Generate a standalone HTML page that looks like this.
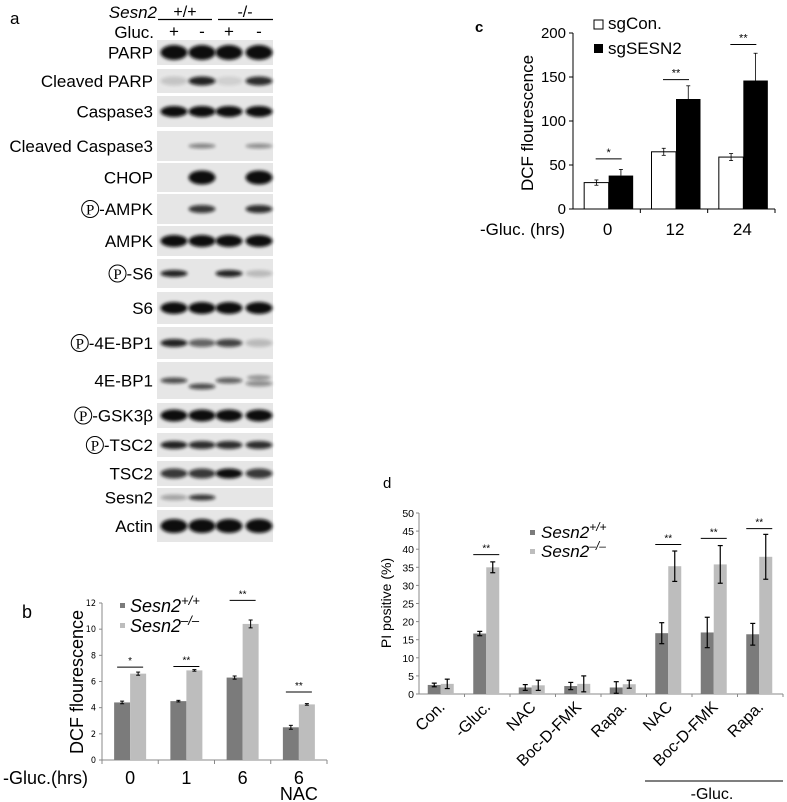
<!DOCTYPE html>
<html><head><meta charset="utf-8"><style>
html,body{margin:0;padding:0;background:#fff;}
svg{display:block;font-family:"Liberation Sans",Arial,sans-serif;}
</style></head><body>
<svg id="fig" width="787" height="802" viewBox="0 0 787 802" xmlns="http://www.w3.org/2000/svg">
<defs><filter id="blur" x="-20%" y="-50%" width="140%" height="200%"><feGaussianBlur stdDeviation="1.6"/></filter></defs>
<g id="panelA"></g>
<g id="panelB"></g>
<g id="panelC"></g>
<g id="panelD"></g>
</svg>
<script>
// ---------- Panel b data ----------
const bCategories = ["0","1","6","6"];
const bWT = [4.4,4.5,6.3,2.5];
const bKO = [6.6,6.85,10.4,4.25];
const bWTerr = [0.1,0.06,0.12,0.15];
const bKOerr = [0.12,0.06,0.3,0.06];
const bSig = ["*","**","**","**"];
const bSigLevel = [7.1,7.15,12.2,5.2];
const bTicks = [0,2,4,6,8,10,12];
// ---------- Panel c data ----------
const cCategories = ["0","12","24"];
const cCon = [30,65,59];
const cKO = [38,125,146];
const cConErr = [3,4,4];
const cKOErr = [7,15,31];
const cSig = ["*","**","**"];
const cSigLevel = [57,147,187];
const cTicks = [0,50,100,150,200];
// ---------- Panel d data ----------
const dCategories = ["Con.","-Gluc.","NAC","Boc-D-FMK","Rapa.","NAC","Boc-D-FMK","Rapa."];
const dWT = [2.5,16.7,1.8,2.2,1.8,16.8,17,16.5];
const dKO = [2.8,35,2.4,2.8,2.7,35.3,35.8,37.9];
const dWTerr = [0.5,0.6,0.8,1.0,1.6,2.9,4.2,3.0];
const dKOerr = [1.3,1.5,1.4,2.2,1.1,4.2,5.2,6.2];
const dSig = ["","**","","","","**","**","**"];
const dSigLevel = [0,38.5,0,0,0,41.3,43,45.7];
const dTicks = [0,5,10,15,20,25,30,35,40,45,50];
// ---------- Panel a data ----------
const blotLabels = ["PARP","Cleaved PARP","Caspase3","Cleaved Caspase3","CHOP","-AMPK","AMPK","-S6","S6","-4E-BP1","4E-BP1","-GSK3β","-TSC2","TSC2","Sesn2","Actin"];
const blotPhospho = [0,0,0,0,0,1,0,1,0,1,0,1,1,0,0,0];
const blotIntensity = [[1,1,1,1],[0.15,0.9,0.1,0.85],[1,1,1,1],[0,0.45,0,0.4],[0,1,0,1],[0,0.8,0,0.85],[1,1,1,1],[0.9,0,0.9,0.2],[1,1,1,1],[0.9,0.6,0.75,0.2],[0.7,0.7,0.6,0.4],[1,1,1,1],[0.9,0.85,0.85,0.85],[0.8,0.8,1,0.8],[0.3,0.8,0,0],[1,1,1,1]];

const NS="http://www.w3.org/2000/svg";
function mk(parent,tag,attrs,text){const e=document.createElementNS(NS,tag);for(const k in attrs)e.setAttribute(k,attrs[k]);if(text!==undefined)e.textContent=text;parent.appendChild(e);return e;}

// ================= Panel A =================
(function(){
const g=document.getElementById('panelA');
let t=mk(g,'text',{x:10,y:24,'font-size':17});t.textContent='a';


t=mk(g,'text',{x:157,y:18,'font-size':17,'font-style':'italic','text-anchor':'end'},'Sesn2');


mk(g,'text',{x:185,y:17,'font-size':16,'text-anchor':'middle'},'+/+');
mk(g,'line',{x1:158,y1:19.5,x2:212,y2:19.5,stroke:'#000','stroke-width':1.3});
mk(g,'text',{x:245,y:17,'font-size':16,'text-anchor':'middle'},'-/-');
mk(g,'line',{x1:218,y1:19.5,x2:273,y2:19.5,stroke:'#000','stroke-width':1.3});
t=mk(g,'text',{x:154,y:38,'font-size':17,'text-anchor':'end'},'Gluc.');


const lanes=[174,202,229,259];
["+","-","+","-"].forEach((s,i)=>mk(g,'text',{x:lanes[i],y:37,'font-size':17,'text-anchor':'middle'},s));
const rows=[[40,65],[69,93],[96,127],[131,161],[163,192],[194,224],[226,256],[259,288],[292,324],[327,359],[362,399],[403,428],[433,457],[461,486],[488,507],[510,542]];
const bh=[15,9,11,5,14,8,12,7,12,8,6,12,8,10,6,14];
rows.forEach((r,i)=>{
  const rowG=mk(g,'g',{});
  
  
  mk(rowG,'rect',{x:157,y:r[0],width:116,height:r[1]-r[0],fill:'#e6e6e6'});
  const cy=(r[0]+r[1])/2;
  blotIntensity[i].forEach((v,j)=>{
    if(v<=0)return;
    let yy=cy; if(i===10&&j===1) yy=cy+6; if(i===10&&j===3){mk(rowG,'ellipse',{cx:lanes[j],cy:cy-3,rx:12,ry:2.5,fill:'#000',opacity:0.35,filter:'url(#blur)'});yy=cy+3;}
    const e=mk(rowG,'ellipse',{cx:lanes[j],cy:yy,rx:13.5,ry:bh[i]/2,fill:'#0a0a0a',opacity:v,filter:'url(#blur)'});
    
    
  });
  const tx=153;
  const lab=mk(g,'text',{x:tx,y:cy+6,'font-size':17,'text-anchor':'end'},blotLabels[i]);
  
  
  if(blotPhospho[i]){
    const w=lab.getComputedTextLength();
    const cx=tx-w-9;
    mk(g,'circle',{cx:cx,cy:cy,r:8.5,fill:'none',stroke:'#000','stroke-width':1});
    mk(g,'text',{x:cx,y:cy+5.5,'font-size':15,'text-anchor':'middle','font-family':'Liberation Serif, serif'},'P');
  }
});
})();

function errBar(g,x,y1,y2,w,sw){mk(g,'line',{x1:x,y1:y1,x2:x,y2:y2,stroke:'#000','stroke-width':sw});mk(g,'line',{x1:x-w,y1:y1,x2:x+w,y2:y1,stroke:'#000','stroke-width':sw});mk(g,'line',{x1:x-w,y1:y2,x2:x+w,y2:y2,stroke:'#000','stroke-width':sw});}

// ================= Panel B =================
(function(){
const g=document.getElementById('panelB');
const x0=102,x1=327,y0=760,yTop=603,vmax=12;
const yS=v=>y0-(v/vmax)*(y0-yTop);
const gw=(x1-x0)/bCategories.length;
let t=mk(g,'text',{x:22,y:618,'font-size':18},'b');

mk(g,'line',{x1:x0,y1:yTop,x2:x0,y2:y0,stroke:'#888'});
mk(g,'line',{x1:x0,y1:y0,x2:x1,y2:y0,stroke:'#888'});
bTicks.forEach(v=>{mk(g,'line',{x1:x0-3,y1:yS(v),x2:x0,y2:yS(v),stroke:'#888'});
  const tt=mk(g,'text',{x:x0-6,y:yS(v)+3,'font-size':9,'text-anchor':'end','font-family':'DejaVu Sans Condensed, Liberation Sans Narrow, sans-serif'},String(v));
  });
for(let i=0;i<=bCategories.length;i++)mk(g,'line',{x1:x0+i*gw,y1:y0,x2:x0+i*gw,y2:y0+4,stroke:'#888'});
bCategories.forEach((c,i)=>{
  const cx=x0+gw*(i+0.5), bw=16;
  let r=mk(g,'rect',{x:cx-bw,y:yS(bWT[i]),width:bw,height:y0-yS(bWT[i]),fill:'#7b7b7b'});
  
  r=mk(g,'rect',{x:cx,y:yS(bKO[i]),width:bw,height:y0-yS(bKO[i]),fill:'#bdbdbd'});
  
  errBar(g,cx-bw/2,yS(bWT[i]+bWTerr[i]),yS(bWT[i]-bWTerr[i]),2,1);
  errBar(g,cx+bw/2,yS(bKO[i]+bKOerr[i]),yS(bKO[i]-bKOerr[i]),2,1);
  const sy=yS(bSigLevel[i]);
  mk(g,'line',{x1:cx-13,y1:sy,x2:cx+13,y2:sy,stroke:'#000','stroke-width':1});
  mk(g,'text',{x:cx,y:sy-3,'font-size':10,'text-anchor':'middle'},bSig[i]);
  const lt=mk(g,'text',{x:cx,y:784,'font-size':18,'text-anchor':'middle'},c);
  
});
mk(g,'text',{x:x0+gw*3.5,y:800,'font-size':18,'text-anchor':'middle'},'NAC');
t=mk(g,'text',{x:3,y:784,'font-size':18},'-Gluc.(hrs)');

t=mk(g,'text',{x:0,y:0,'font-size':18,'text-anchor':'middle',transform:'translate(83,682) rotate(-90)'},'DCF flourescence');

const lg=mk(g,'g',{});
mk(lg,'rect',{x:120,y:603,width:5,height:5,fill:'#7b7b7b'});
mk(lg,'rect',{x:120,y:623,width:5,height:5,fill:'#bdbdbd'});
const l1=mk(lg,'text',{x:130,y:612,'font-size':18,'font-style':'italic'});l1.innerHTML='Sesn2<tspan dy="-7" font-size="13" font-style="italic">+/+</tspan>';
const l2=mk(lg,'text',{x:130,y:632,'font-size':18,'font-style':'italic'});l2.innerHTML='Sesn2<tspan dy="-7" font-size="13" font-style="italic">–/–</tspan>';
})();

// ================= Panel C =================
(function(){
const g=document.getElementById('panelC');
const x0=573,x1=775,y0=209,yTop=33,vmax=200;
const yS=v=>y0-(v/vmax)*(y0-yTop);
const gw=(x1-x0)/cCategories.length;
let t=mk(g,'text',{x:475,y:32,'font-size':15,'font-weight':'bold'},'c');

mk(g,'line',{x1:x0,y1:yTop,x2:x0,y2:y0,stroke:'#000'});
mk(g,'line',{x1:x0,y1:y0,x2:x1,y2:y0,stroke:'#000'});
cTicks.forEach(v=>{mk(g,'line',{x1:x0-4,y1:yS(v),x2:x0,y2:yS(v),stroke:'#000'});
  const tt=mk(g,'text',{x:x0-7,y:yS(v)+5,'font-size':15,'text-anchor':'end'},String(v));
  });
for(let i=1;i<=cCategories.length;i++)mk(g,'line',{x1:x0+i*gw,y1:y0,x2:x0+i*gw,y2:y0+4,stroke:'#000'});
cCategories.forEach((c,i)=>{
  const cx=x0+gw*(i+0.5)+2, bw=24.5;
  let r=mk(g,'rect',{x:cx-bw,y:yS(cCon[i]),width:bw,height:y0-yS(cCon[i]),fill:'#fff',stroke:'#000','stroke-width':1});
  
  errBar(g,cx-bw/2,yS(cCon[i]+cConErr[i]),yS(cCon[i]-cConErr[i]),2,0.8);
  r=mk(g,'rect',{x:cx,y:yS(cKO[i]),width:bw,height:y0-yS(cKO[i]),fill:'#000'});
  
  mk(g,'line',{x1:cx+bw/2,y1:yS(cKO[i]),x2:cx+bw/2,y2:yS(cKO[i]+cKOErr[i]),stroke:'#000','stroke-width':0.8});
  mk(g,'line',{x1:cx+bw/2-2,y1:yS(cKO[i]+cKOErr[i]),x2:cx+bw/2+2,y2:yS(cKO[i]+cKOErr[i]),stroke:'#000','stroke-width':0.8});
  const sy=yS(cSigLevel[i]);
  mk(g,'line',{x1:cx-13,y1:sy,x2:cx+13,y2:sy,stroke:'#000','stroke-width':1});
  mk(g,'text',{x:cx,y:sy-3,'font-size':11,'text-anchor':'middle'},cSig[i]);
  const lt=mk(g,'text',{x:cx-1,y:235,'font-size':17,'text-anchor':'middle'},c);
  
});
t=mk(g,'text',{x:565,y:235,'font-size':17,'text-anchor':'end'},'-Gluc. (hrs)');

t=mk(g,'text',{x:0,y:0,'font-size':17,'text-anchor':'middle',transform:'translate(533,123) rotate(-90)'},'DCF flourescence');

const lg=mk(g,'g',{});
mk(lg,'rect',{x:594,y:20,width:9,height:9,fill:'#fff',stroke:'#000','stroke-width':1});
mk(lg,'rect',{x:594,y:44,width:9,height:9,fill:'#000'});
mk(lg,'text',{x:608,y:29,'font-size':17},'sgCon.');
mk(lg,'text',{x:608,y:54,'font-size':17},'sgSESN2');
})();

// ================= Panel D =================
(function(){
const g=document.getElementById('panelD');
const x0=419,x1=783,y0=694,yTop=513,vmax=50;
const yS=v=>y0-(v/vmax)*(y0-yTop);
const gw=(x1-x0)/dCategories.length;
let t=mk(g,'text',{x:383,y:488,'font-size':15},'d');

mk(g,'line',{x1:x0,y1:yTop,x2:x0,y2:y0,stroke:'#888'});
mk(g,'line',{x1:x0,y1:y0,x2:x1,y2:y0,stroke:'#888'});
dTicks.forEach(v=>{mk(g,'line',{x1:x0-3,y1:yS(v),x2:x0,y2:yS(v),stroke:'#888'});
  const tt=mk(g,'text',{x:x0-5,y:yS(v)+4,'font-size':10.5,'text-anchor':'end'},String(v));
  });
for(let i=1;i<=dCategories.length;i++)mk(g,'line',{x1:x0+i*gw,y1:y0,x2:x0+i*gw,y2:y0+3,stroke:'#888'});
dCategories.forEach((c,i)=>{
  const cx=x0+gw*(i+0.5)-1, bw=13;
  let r=mk(g,'rect',{x:cx-bw,y:yS(dWT[i]),width:bw,height:y0-yS(dWT[i]),fill:'#7b7b7b'});
  
  r=mk(g,'rect',{x:cx,y:yS(dKO[i]),width:bw,height:y0-yS(dKO[i]),fill:'#bdbdbd'});
  
  errBar(g,cx-bw/2,yS(dWT[i]+dWTerr[i]),yS(dWT[i]-dWTerr[i]),2.5,1.2);
  errBar(g,cx+bw/2,yS(dKO[i]+dKOerr[i]),yS(dKO[i]-dKOerr[i]),2.5,1.2);
  if(dSig[i]){const sy=yS(dSigLevel[i]);
    mk(g,'line',{x1:cx-13,y1:sy,x2:cx+13,y2:sy,stroke:'#000','stroke-width':1});
    mk(g,'text',{x:cx,y:sy-3,'font-size':10,'text-anchor':'middle'},dSig[i]);}
  const lt=mk(g,'text',{x:0,y:0,'font-size':16,'text-anchor':'end',transform:'translate('+(cx+5)+','+(y0+14)+') rotate(-45)'},c);
  
});
mk(g,'line',{x1:645,y1:781,x2:783,y2:781,stroke:'#333','stroke-width':1.3});
t=mk(g,'text',{x:712,y:799,'font-size':16,'text-anchor':'middle'},'-Gluc.');

t=mk(g,'text',{x:0,y:0,'font-size':14,'text-anchor':'middle',transform:'translate(391,603) rotate(-90)'},'PI positive (%)');

const lg=mk(g,'g',{});
mk(lg,'rect',{x:530,y:530,width:5,height:5,fill:'#7b7b7b'});
mk(lg,'rect',{x:530,y:549,width:5,height:5,fill:'#bdbdbd'});
const l1=mk(lg,'text',{x:541,y:538,'font-size':17,'font-style':'italic'});l1.innerHTML='Sesn2<tspan dy="-7" font-size="12" font-style="italic">+/+</tspan>';
const l2=mk(lg,'text',{x:541,y:557,'font-size':17,'font-style':'italic'});l2.innerHTML='Sesn2<tspan dy="-7" font-size="12" font-style="italic">–/–</tspan>';
})();
</script>
</body></html>
